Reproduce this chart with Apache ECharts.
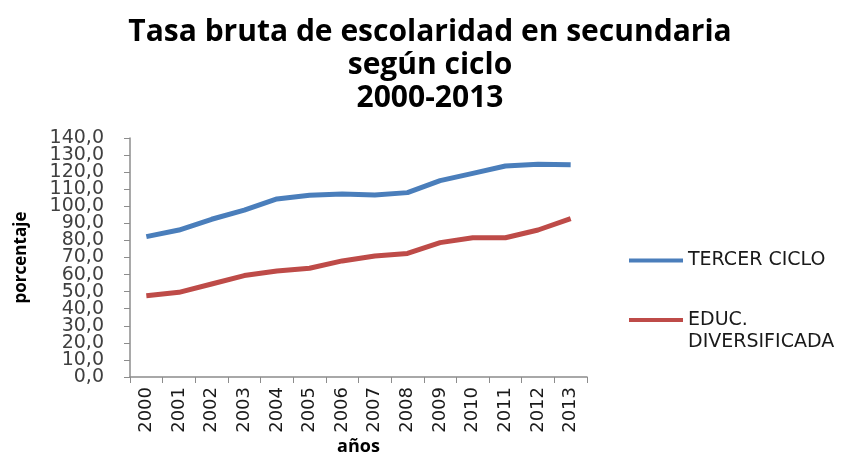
<!DOCTYPE html>
<html><head><meta charset="utf-8">
<script src="https://cdn.jsdelivr.net/npm/echarts@6/dist/echarts.min.js"></script>
<style>html,body{margin:0;padding:0;background:#fff}#c{width:854px;height:456px}</style>
</head><body><div id="c"></div>
<script>
const years = ['2000','2001','2002','2003','2004','2005','2006','2007','2008','2009','2010','2011','2012','2013'];
const tercerCiclo = [82.2,86.1,92.4,97.8,104.3,106.4,107.2,106.6,108.0,115.0,119.3,123.6,124.6,124.4];
const educDiversificada = [47.6,49.6,54.5,59.4,62.1,63.7,68.0,70.9,72.4,78.7,81.6,81.6,86.1,92.8];
const yTickLabels = ['0,0','10,0','20,0','30,0','40,0','50,0','60,0','70,0','80,0','90,0','100,0','110,0','120,0','130,0','140,0'];
const seriesNames = ['TERCER CICLO','EDUC. DIVERSIFICADA'];
const titleText = 'Tasa bruta de escolaridad en secundaria\nsegún ciclo\n2000-2013';

const F = 'DejaVu Sans';
const T = 'Open Sans';
const chart = echarts.init(document.getElementById('c'));
chart.setOption({
  animation:false,
  backgroundColor:'#fff',
  title:{text:titleText,left:425,top:11,textAlign:'center',
    textStyle:{fontFamily:T,fontWeight:'bold',fontSize:30,lineHeight:33,color:'#000'}},
  grid:{left:130,right:267,top:138,bottom:79,containLabel:false,outerBoundsMode:'none'},
  xAxis:{type:'category',data:years,boundaryGap:true,name:'años',nameLocation:'middle',nameGap:61,nameMoveOverlap:false,
    nameTextStyle:{fontFamily:T,fontWeight:'bold',fontSize:18,color:'#000'},
    axisLine:{lineStyle:{color:'#8c8c8c',width:1.5}},
    axisTick:{show:true,length:6,lineStyle:{color:'#8c8c8c'}},
    axisLabel:{rotate:90,fontFamily:F,fontSize:18,color:'#1a1a1a',margin:10}},
  yAxis:[
    {type:'value',min:0,max:140,interval:10,name:'porcentaje',nameLocation:'middle',nameGap:100,nameRotate:90,
      nameTextStyle:{fontFamily:T,fontWeight:'bold',fontSize:17,color:'#000'},
      axisLine:{show:true,lineStyle:{color:'#8c8c8c',width:1.5}},
      axisTick:{show:true,length:6,lineStyle:{color:'#8c8c8c'}},
      splitLine:{show:false},
      axisLabel:{show:false}},
    {type:'category',data:yTickLabels,boundaryGap:false,position:'left',
      axisLine:{show:false},axisTick:{show:false},splitLine:{show:false},
      axisLabel:{interval:0,fontFamily:F,fontSize:19,color:'#404040',margin:26}}
  ],
  legend:[
    {data:[seriesNames[0]],left:624,top:246,itemWidth:54,itemHeight:14,itemGap:2,
      icon:'path://M0,5 L54,5 L54,9 L0,9 Z',
      textStyle:{fontFamily:F,fontSize:19,color:'#1a1a1a'}},
    {data:[seriesNames[1]],left:624,top:282,itemWidth:54,itemHeight:14,itemGap:2,
      icon:'path://M0,5 L54,5 L54,9 L0,9 Z',
      formatter:()=> '\u00a0\nEDUC.\nDIVERSIFICADA',
      textStyle:{fontFamily:F,fontSize:19,color:'#1a1a1a',lineHeight:22}}
  ],
  series:[
    {name:seriesNames[0],type:'line',yAxisIndex:0,data:tercerCiclo,symbol:'none',lineStyle:{color:'#4a7ebb',width:5},itemStyle:{color:'#4a7ebb'}},
    {name:seriesNames[1],type:'line',yAxisIndex:0,data:educDiversificada,symbol:'none',lineStyle:{color:'#be4b48',width:5},itemStyle:{color:'#be4b48'}}
  ]
});
</script></body></html>
